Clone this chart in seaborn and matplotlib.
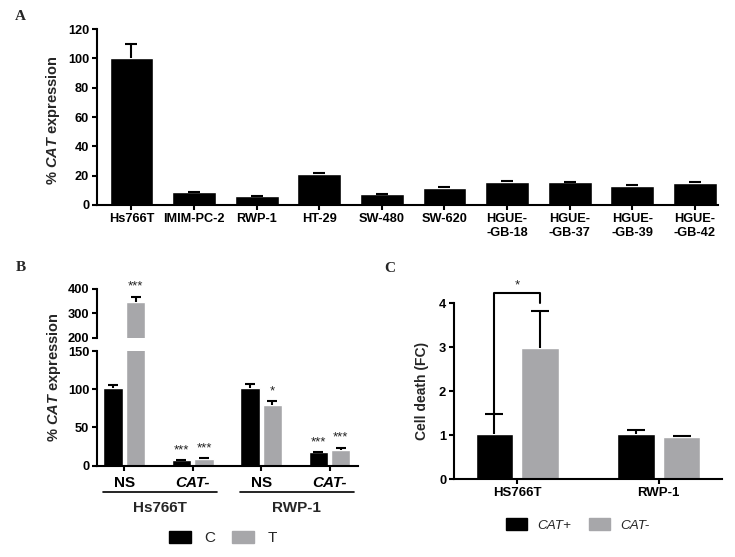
import numpy as np
import pandas as pd
import seaborn as sns
import matplotlib.pyplot as plt
import matplotlib.transforms as mtransforms
from matplotlib.patches import Patch

# Panel A: CAT expression across cell lines
cell_lines = ['Hs766T', 'IMIM-PC-2', 'RWP-1', 'HT-29', 'SW-480', 'SW-620',
              'HGUE-\n-GB-18', 'HGUE-\n-GB-37', 'HGUE-\n-GB-39', 'HGUE-\n-GB-42']
cat_expr = [100.5, 8.7, 6.0, 21.0, 7.4, 11.7, 15.9, 15.6, 13.1, 15.2]
cat_err = [9.5, 0.3, 0.3, 1.0, 0.3, 0.5, 0.4, 0.4, 0.5, 0.2]

# Panel B: silencing, control (C) vs treated (T)
b_lines = ['Hs766T', 'Hs766T', 'RWP-1', 'RWP-1']
b_groups = ['NS', 'CAT-', 'NS', 'CAT-']
b_ctrl = [101, 7, 101, 17.5]
b_ctrl_err = [5, 0.3, 6, 0.5]
b_treat = [345, 8.8, 80, 21]
b_treat_err = [23, 0.7, 4, 2.5]
b_ctrl_sig = ['', '***', '', '***']
b_treat_sig = ['***', '***', '*', '***']

# Panel C: cell death fold change
c_lines = ['HS766T', 'RWP-1']
c_pos = [1.02, 1.02]
c_pos_err = [0.46, 0.09]
c_neg = [2.99, 0.97]
c_neg_err = [0.83, 0.01]

BLACK = '#000000'
GRAY = '#a7a7aa'
W, H = 735, 557

sns.set_style('ticks')
plt.rcParams['font.family'] = ['Liberation Sans', 'DejaVu Sans']
plt.rcParams['font.weight'] = 'bold'
plt.rcParams['axes.linewidth'] = 1.5
plt.rcParams['xtick.major.width'] = 1.5
plt.rcParams['ytick.major.width'] = 1.5
plt.rcParams['xtick.major.size'] = 3.6
plt.rcParams['ytick.major.size'] = 3.6
plt.rcParams['xtick.color'] = 'black'
plt.rcParams['ytick.color'] = 'black'
plt.rcParams['axes.edgecolor'] = 'black'
plt.rcParams['mathtext.fontset'] = 'custom'
plt.rcParams['mathtext.it'] = 'Liberation Sans:italic:bold'
plt.rcParams['mathtext.rm'] = 'Liberation Sans:bold'

fig = plt.figure(figsize=(W / 100, H / 100), dpi=100)


def px_axes(left, top, right, bottom):
    """Add axes given pixel box (from the top-left corner)."""
    return fig.add_axes([left / W, 1 - bottom / H, (right - left) / W, (bottom - top) / H])


def add_err(ax, container, errs, capsize):
    # upper-only error bars, cap only on top
    xs = [p.get_x() + p.get_width() / 2 for p in container]
    ys = [p.get_height() for p in container]
    eb = ax.errorbar(xs, ys, yerr=[np.zeros(len(errs)), errs], fmt='none', ecolor='black',
                     elinewidth=1.5, capsize=capsize, capthick=1.5)
    caps = eb.lines[1]
    if len(caps) == 2:
        caps[0].set_visible(False)


# ---------------- Panel A ----------------
axA = px_axes(97, 29, 718, 205)
df_a = pd.DataFrame({'line': cell_lines, 'expr': cat_expr})
sns.barplot(data=df_a, x='line', y='expr', color=BLACK, saturation=1, width=0.7,
            errorbar=None, ax=axA)
add_err(axA, axA.containers[0], cat_err, 4.2)
axA.set_ylim(0, 120)
axA.set_yticks(range(0, 121, 20))
axA.set_xlim(-0.55, 9.37)
axA.set_xlabel('')
axA.set_ylabel('')
axA.tick_params(axis='both', labelsize=9.2, pad=2)
for lab in axA.get_xticklabels():
    lab.set_linespacing(1.3)
sns.despine(ax=axA)
fig.text(53 / W, 1 - 120 / H, r'% $\mathit{CAT}$ expression', rotation=90,
         ha='center', va='center', fontsize=10.5)

# ---------------- Panel B ----------------
df_b = pd.DataFrame({
    'cond': [f'{l} {g}' for l, g in zip(b_lines, b_groups)] * 2,
    'value': b_ctrl + b_treat,
    'treat': ['C'] * 4 + ['T'] * 4,
})
axB = px_axes(97, 351, 358, 465.7)
axBu = px_axes(97, 289, 358, 338)
for ax in (axB, axBu):
    sns.barplot(data=df_b, x='cond', y='value', hue='treat', palette=[BLACK, GRAY],
                saturation=1, width=0.66, gap=0.15, errorbar=None, legend=False, ax=ax)
    add_err(ax, ax.containers[0], b_ctrl_err, 3.4)
    add_err(ax, ax.containers[1], b_treat_err, 3.4)
    ax.set_xlim(-0.40, 3.415)
    ax.set_xlabel('')
    ax.set_ylabel('')
    ax.tick_params(axis='y', labelsize=9.3, pad=2)
    sns.despine(ax=ax)

axB.set_ylim(0, 150)
axB.set_yticks([0, 50, 100, 150])
axBu.set_ylim(200, 400)
axBu.set_yticks([200, 300, 400])
axBu.spines['bottom'].set_visible(False)
axBu.tick_params(axis='x', bottom=False, labelbottom=False)

axB.set_xticks(range(len(b_groups)))
axB.set_xticklabels(b_groups, fontsize=11)
axB.tick_params(axis='x', pad=4)
for lab in axB.get_xticklabels():
    if lab.get_text() != 'NS':
        lab.set_fontstyle('italic')

# significance stars
for cont, errs, sigs in ((0, b_ctrl_err, b_ctrl_sig), (1, b_treat_err, b_treat_sig)):
    for p, e, s in zip(axB.containers[cont], errs, sigs):
        if not s:
            continue
        top = p.get_height() + e
        ax = axBu if top > 150 else axB
        ax.annotate(s, (p.get_x() + p.get_width() / 2, top), xytext=(0, 5),
                    textcoords='offset points', ha='center', va='baseline',
                    fontsize=9.5, fontweight='normal', color='#222222', annotation_clip=False)

# cell line group underlines
trans = mtransforms.blended_transform_factory(axB.transData, axB.transAxes)
for name in ['Hs766T', 'RWP-1']:
    pos = [i for i, l in enumerate(b_lines) if l == name]
    x0, x1 = pos[0] - 0.31, pos[-1] + 0.35
    axB.plot([x0, x1], [-0.227, -0.227], color='black', lw=1.2, transform=trans, clip_on=False)
    axB.text((x0 + x1) / 2, -0.37, name, transform=trans, ha='center', va='center', fontsize=11)

fig.text(54 / W, 1 - 377 / H, r'% $\mathit{CAT}$ expression', rotation=90,
         ha='center', va='center', fontsize=10.5)
fig.legend(handles=[Patch(color=BLACK), Patch(color=GRAY)], labels=['C', 'T'],
           loc='center', bbox_to_anchor=(223 / W, 1 - 538 / H), ncol=2, frameon=False,
           prop={'size': 11, 'weight': 'normal'}, handlelength=1.45, handleheight=0.85,
           handletextpad=0.85, columnspacing=1.1)

# ---------------- Panel C ----------------
axC = px_axes(454, 303.3, 721.7, 479.3)
df_c = pd.DataFrame({
    'line': c_lines * 2,
    'value': c_pos + c_neg,
    'status': ['CAT+'] * 2 + ['CAT-'] * 2,
})
sns.barplot(data=df_c, x='line', y='value', hue='status', palette=[BLACK, GRAY],
            saturation=1, width=0.643, gap=0.17, errorbar=None, legend=False, ax=axC)
add_err(axC, axC.containers[0], c_pos_err, 6.4)
add_err(axC, axC.containers[1], c_neg_err, 6.4)
axC.set_ylim(0, 4)
axC.set_yticks(range(5))
axC.set_xlim(-0.446, 1.444)
axC.set_xlabel('')
axC.set_ylabel('')
axC.tick_params(axis='y', labelsize=9.3, pad=2)
axC.tick_params(axis='x', labelsize=9.5, pad=2)
sns.despine(ax=axC)

# significance bracket HS766T CAT+ vs CAT-
pa = axC.containers[0][0]
pb = axC.containers[1][0]
xa = pa.get_x() + pa.get_width() / 2
xb = pb.get_x() + pb.get_width() / 2
ya = pa.get_height() + c_pos_err[0]
yb = pb.get_height() + c_neg_err[0]
ytop = 4.24
axC.plot([xa, xa, xb, xb], [ya, ytop, ytop, yb + 0.18], color='black', lw=1.5, clip_on=False)
axC.text((xa + xb) / 2, ytop + 0.1, '*', ha='center', va='baseline', fontsize=9.5,
         fontweight='normal', color='#222222')

fig.text(422 / W, 1 - 391 / H, 'Cell death (FC)', rotation=90, ha='center', va='center',
         fontsize=10)
fig.legend(handles=[Patch(color=BLACK), Patch(color=GRAY)], labels=['CAT+', 'CAT-'],
           loc='center', bbox_to_anchor=(578 / W, 1 - 525 / H), ncol=2, frameon=False,
           prop={'size': 9.7, 'weight': 'normal', 'style': 'italic'},
           handlelength=1.55, handleheight=1.0, handletextpad=0.8, columnspacing=1.3)

# panel letters
for letter, (x, y) in zip('ABC', [(15, 17), (16, 267), (384, 268)]):
    fig.text(x / W, 1 - y / H, letter, ha='left', va='center', fontsize=11,
             family=['Liberation Serif', 'DejaVu Serif'], fontweight='bold')

fig.savefig('out.png', dpi=100)
